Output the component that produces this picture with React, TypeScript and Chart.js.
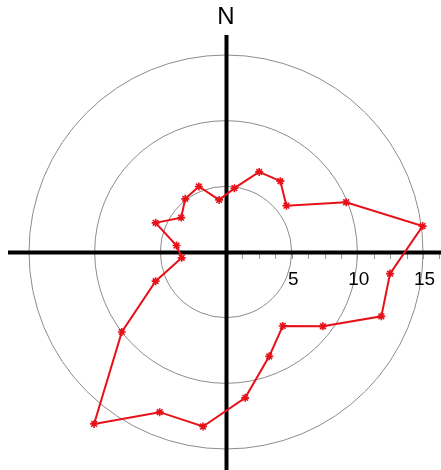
import React, { useEffect, useRef } from "react";
import { Chart, registerables } from "chart.js";

Chart.register(...registerables);

// Direction bins (degrees, clockwise from north), 15° wide, centred on 7.5° + 15k
const directions = [
  "7.5", "22.5", "37.5", "52.5", "67.5", "82.5", "97.5", "112.5",
  "127.5", "142.5", "157.5", "172.5", "187.5", "202.5", "217.5", "232.5",
  "247.5", "262.5", "277.5", "292.5", "307.5", "322.5", "337.5", "352.5",
];
const values = [
  4.9, 6.6, 6.8, 5.8, 9.9, 15.1, 12.6, 12.8,
  9.3, 7.1, 8.6, 11.2, 13.4, 13.2, 16.5, 10.0,
  5.8, 3.4, 3.8, 5.8, 4.3, 5.1, 5.4, 4.0,
];
const ringValues = [5, 10, 15];
const tickLabels = ["5", "10", "15"];
const minorStep = 1.25;
const minorMax = 16.25;
const northLabel = "N";

const axesPlugin = {
  id: "compassAxes",
  beforeDatasetsDraw(chart: any) {
    const r = chart.scales.r;
    const ctx = chart.ctx;
    const cx = r.xCenter;
    const cy = r.yCenter;
    ctx.save();
    // minor ticks along east axis
    ctx.strokeStyle = "#9a9a9a";
    ctx.lineWidth = 1;
    for (let v = minorStep; v <= minorMax + 1e-6; v += minorStep) {
      const x = Math.round(cx + r.getDistanceFromCenterForValue(v)) + 0.5;
      ctx.beginPath();
      ctx.moveTo(x, cy + 2);
      ctx.lineTo(x, cy + 7);
      ctx.stroke();
    }
    // main axes
    ctx.strokeStyle = "#000";
    ctx.lineWidth = 4;
    ctx.beginPath();
    ctx.moveTo(8, cy + 0.5);
    ctx.lineTo(chart.width, cy + 0.5);
    ctx.moveTo(cx + 0.5, 35);
    ctx.lineTo(cx + 0.5, chart.height);
    ctx.stroke();
    // tick labels
    ctx.fillStyle = "#000";
    ctx.font = "19px 'Liberation Sans', Arial, sans-serif";
    ctx.textAlign = "center";
    ctx.textBaseline = "middle";
    ringValues.forEach((v, i) => {
      const x = cx + r.getDistanceFromCenterForValue(v) + 1.5;
      ctx.fillText(tickLabels[i], x, cy + 28);
    });
    // north label
    ctx.font = "24px 'Liberation Sans', Arial, sans-serif";
    ctx.fillText(northLabel, cx, 17);
    ctx.restore();
  },
};

export default function App() {
  const canvasRef = useRef<HTMLCanvasElement | null>(null);

  useEffect(() => {
    const canvas = canvasRef.current;
    if (!canvas) return;
    const chart = new Chart(canvas, {
      type: "radar",
      data: {
        labels: directions,
        datasets: [
          {
            data: values,
            borderColor: "rgb(232, 16, 24)",
            backgroundColor: "rgb(232, 16, 24)",
            borderWidth: 2,
            fill: false,
            pointStyle: "star",
            pointRadius: 4,
            pointBorderWidth: 1.6,
            pointBorderColor: "rgb(232, 16, 24)",
            tension: 0,
            clip: false,
          } as any,
        ],
      },
      options: {
        responsive: false,
        animation: false,
        devicePixelRatio: 1,
        layout: { padding: { left: 29, right: 18, top: 55, bottom: 21 } },
        plugins: { legend: { display: false }, tooltip: { enabled: false } },
        scales: {
          r: {
            min: 0,
            max: 15,
            startAngle: 7.5,
            ticks: { display: false, stepSize: 5 },
            pointLabels: { display: false },
            angleLines: { display: false },
            grid: { color: "#8c8c8c", lineWidth: 1, circular: true },
          },
        },
      },
      plugins: [axesPlugin],
    });
    return () => chart.destroy();
  }, []);

  return (
    <div style={{ position: "absolute", left: 0, top: 0, width: 441, height: 470, background: "#fff" }}>
      <canvas ref={canvasRef} width={441} height={470} />
    </div>
  );
}
